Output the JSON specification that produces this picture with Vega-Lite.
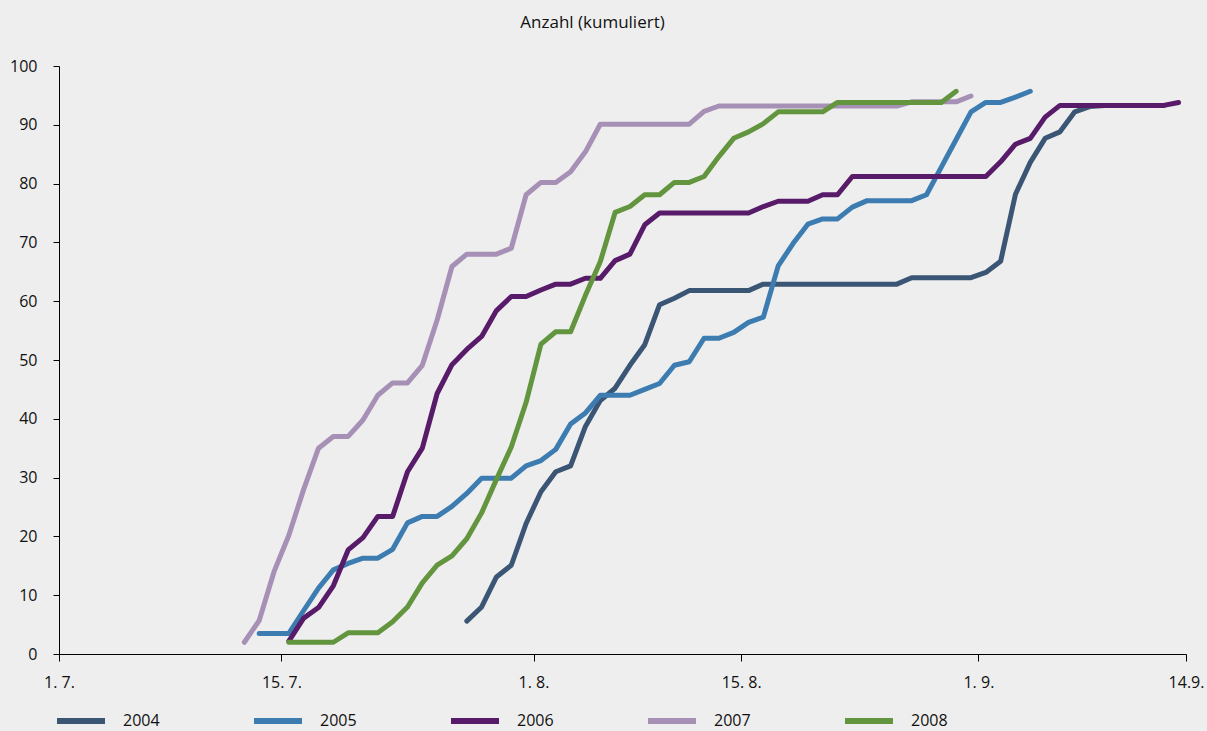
{
  "$schema": "https://vega.github.io/schema/vega-lite/v6.json",
  "width": 1127,
  "height": 588,
  "autosize": "none",
  "padding": {"left": 59, "top": 66, "right": 21, "bottom": 77},
  "background": "#eeeeee",
  "title": {"text": "Anzahl (kumuliert)", "anchor": "middle", "dx": -30, "offset": 26, "fontSize": 17, "fontWeight": "normal", "font": "Open Sans", "color": "#111111"},
  "datasets": {
    "reihen": [
      {"jahr": "2004", "tag": 27, "anzahl": 5.6}, {"jahr": "2004", "tag": 28, "anzahl": 8.0}, {"jahr": "2004", "tag": 29, "anzahl": 13.1}, {"jahr": "2004", "tag": 30, "anzahl": 15.1}, {"jahr": "2004", "tag": 31, "anzahl": 22.2}, {"jahr": "2004", "tag": 32, "anzahl": 27.6}, {"jahr": "2004", "tag": 33, "anzahl": 31.0}, {"jahr": "2004", "tag": 34, "anzahl": 32.0}, {"jahr": "2004", "tag": 35, "anzahl": 38.7}, {"jahr": "2004", "tag": 36, "anzahl": 43.1}, {"jahr": "2004", "tag": 37, "anzahl": 45.2}, {"jahr": "2004", "tag": 38, "anzahl": 49.1}, {"jahr": "2004", "tag": 39, "anzahl": 52.6}, {"jahr": "2004", "tag": 40, "anzahl": 59.4}, {"jahr": "2004", "tag": 41, "anzahl": 60.5}, {"jahr": "2004", "tag": 42, "anzahl": 61.8}, {"jahr": "2004", "tag": 43, "anzahl": 61.8}, {"jahr": "2004", "tag": 44, "anzahl": 61.8}, {"jahr": "2004", "tag": 45, "anzahl": 61.8}, {"jahr": "2004", "tag": 46, "anzahl": 61.8}, {"jahr": "2004", "tag": 47, "anzahl": 62.9}, {"jahr": "2004", "tag": 48, "anzahl": 62.9}, {"jahr": "2004", "tag": 49, "anzahl": 62.9}, {"jahr": "2004", "tag": 50, "anzahl": 62.9}, {"jahr": "2004", "tag": 51, "anzahl": 62.9}, {"jahr": "2004", "tag": 52, "anzahl": 62.9}, {"jahr": "2004", "tag": 53, "anzahl": 62.9}, {"jahr": "2004", "tag": 54, "anzahl": 62.9}, {"jahr": "2004", "tag": 55, "anzahl": 62.9}, {"jahr": "2004", "tag": 56, "anzahl": 62.9}, {"jahr": "2004", "tag": 57, "anzahl": 64.0}, {"jahr": "2004", "tag": 58, "anzahl": 64.0}, {"jahr": "2004", "tag": 59, "anzahl": 64.0}, {"jahr": "2004", "tag": 60, "anzahl": 64.0}, {"jahr": "2004", "tag": 61, "anzahl": 64.0}, {"jahr": "2004", "tag": 62, "anzahl": 64.9}, {"jahr": "2004", "tag": 63, "anzahl": 66.8}, {"jahr": "2004", "tag": 64, "anzahl": 78.2}, {"jahr": "2004", "tag": 65, "anzahl": 83.6}, {"jahr": "2004", "tag": 66, "anzahl": 87.7}, {"jahr": "2004", "tag": 67, "anzahl": 88.8}, {"jahr": "2004", "tag": 68, "anzahl": 92.2}, {"jahr": "2004", "tag": 69, "anzahl": 93.1}, {"jahr": "2004", "tag": 70, "anzahl": 93.3}, {"jahr": "2004", "tag": 71, "anzahl": 93.3}, {"jahr": "2004", "tag": 72, "anzahl": 93.3}, {"jahr": "2004", "tag": 73, "anzahl": 93.3}, {"jahr": "2004", "tag": 74, "anzahl": 93.3},

      {"jahr": "2005", "tag": 13, "anzahl": 3.5}, {"jahr": "2005", "tag": 14, "anzahl": 3.5}, {"jahr": "2005", "tag": 15, "anzahl": 3.5}, {"jahr": "2005", "tag": 16, "anzahl": 7.4}, {"jahr": "2005", "tag": 17, "anzahl": 11.2}, {"jahr": "2005", "tag": 18, "anzahl": 14.3}, {"jahr": "2005", "tag": 19, "anzahl": 15.4}, {"jahr": "2005", "tag": 20, "anzahl": 16.3}, {"jahr": "2005", "tag": 21, "anzahl": 16.3}, {"jahr": "2005", "tag": 22, "anzahl": 17.8}, {"jahr": "2005", "tag": 23, "anzahl": 22.3}, {"jahr": "2005", "tag": 24, "anzahl": 23.4}, {"jahr": "2005", "tag": 25, "anzahl": 23.4}, {"jahr": "2005", "tag": 26, "anzahl": 25.1}, {"jahr": "2005", "tag": 27, "anzahl": 27.3}, {"jahr": "2005", "tag": 28, "anzahl": 29.9}, {"jahr": "2005", "tag": 29, "anzahl": 29.9}, {"jahr": "2005", "tag": 30, "anzahl": 29.9}, {"jahr": "2005", "tag": 31, "anzahl": 32.0}, {"jahr": "2005", "tag": 32, "anzahl": 32.9}, {"jahr": "2005", "tag": 33, "anzahl": 34.8}, {"jahr": "2005", "tag": 34, "anzahl": 39.1}, {"jahr": "2005", "tag": 35, "anzahl": 41.0}, {"jahr": "2005", "tag": 36, "anzahl": 44.0}, {"jahr": "2005", "tag": 37, "anzahl": 44.0}, {"jahr": "2005", "tag": 38, "anzahl": 44.0}, {"jahr": "2005", "tag": 39, "anzahl": 45.0}, {"jahr": "2005", "tag": 40, "anzahl": 46.0}, {"jahr": "2005", "tag": 41, "anzahl": 49.1}, {"jahr": "2005", "tag": 42, "anzahl": 49.7}, {"jahr": "2005", "tag": 43, "anzahl": 53.7}, {"jahr": "2005", "tag": 44, "anzahl": 53.7}, {"jahr": "2005", "tag": 45, "anzahl": 54.7}, {"jahr": "2005", "tag": 46, "anzahl": 56.4}, {"jahr": "2005", "tag": 47, "anzahl": 57.3}, {"jahr": "2005", "tag": 48, "anzahl": 66.0}, {"jahr": "2005", "tag": 49, "anzahl": 69.8}, {"jahr": "2005", "tag": 50, "anzahl": 73.1}, {"jahr": "2005", "tag": 51, "anzahl": 74.0}, {"jahr": "2005", "tag": 52, "anzahl": 74.0}, {"jahr": "2005", "tag": 53, "anzahl": 76.0}, {"jahr": "2005", "tag": 54, "anzahl": 77.1}, {"jahr": "2005", "tag": 55, "anzahl": 77.1}, {"jahr": "2005", "tag": 56, "anzahl": 77.1}, {"jahr": "2005", "tag": 57, "anzahl": 77.1}, {"jahr": "2005", "tag": 58, "anzahl": 78.1}, {"jahr": "2005", "tag": 59, "anzahl": 82.8}, {"jahr": "2005", "tag": 60, "anzahl": 87.5}, {"jahr": "2005", "tag": 61, "anzahl": 92.2}, {"jahr": "2005", "tag": 62, "anzahl": 93.8}, {"jahr": "2005", "tag": 63, "anzahl": 93.8}, {"jahr": "2005", "tag": 64, "anzahl": 94.7}, {"jahr": "2005", "tag": 65, "anzahl": 95.7},

      {"jahr": "2006", "tag": 15, "anzahl": 2.2}, {"jahr": "2006", "tag": 16, "anzahl": 6.1}, {"jahr": "2006", "tag": 17, "anzahl": 7.9}, {"jahr": "2006", "tag": 18, "anzahl": 11.6}, {"jahr": "2006", "tag": 19, "anzahl": 17.7}, {"jahr": "2006", "tag": 20, "anzahl": 19.8}, {"jahr": "2006", "tag": 21, "anzahl": 23.4}, {"jahr": "2006", "tag": 22, "anzahl": 23.4}, {"jahr": "2006", "tag": 23, "anzahl": 31.0}, {"jahr": "2006", "tag": 24, "anzahl": 35.0}, {"jahr": "2006", "tag": 25, "anzahl": 44.3}, {"jahr": "2006", "tag": 26, "anzahl": 49.2}, {"jahr": "2006", "tag": 27, "anzahl": 51.8}, {"jahr": "2006", "tag": 28, "anzahl": 54.0}, {"jahr": "2006", "tag": 29, "anzahl": 58.4}, {"jahr": "2006", "tag": 30, "anzahl": 60.8}, {"jahr": "2006", "tag": 31, "anzahl": 60.8}, {"jahr": "2006", "tag": 32, "anzahl": 61.9}, {"jahr": "2006", "tag": 33, "anzahl": 62.9}, {"jahr": "2006", "tag": 34, "anzahl": 62.9}, {"jahr": "2006", "tag": 35, "anzahl": 63.9}, {"jahr": "2006", "tag": 36, "anzahl": 63.9}, {"jahr": "2006", "tag": 37, "anzahl": 66.9}, {"jahr": "2006", "tag": 38, "anzahl": 68.0}, {"jahr": "2006", "tag": 39, "anzahl": 73.0}, {"jahr": "2006", "tag": 40, "anzahl": 75.0}, {"jahr": "2006", "tag": 41, "anzahl": 75.0}, {"jahr": "2006", "tag": 42, "anzahl": 75.0}, {"jahr": "2006", "tag": 43, "anzahl": 75.0}, {"jahr": "2006", "tag": 44, "anzahl": 75.0}, {"jahr": "2006", "tag": 45, "anzahl": 75.0}, {"jahr": "2006", "tag": 46, "anzahl": 75.0}, {"jahr": "2006", "tag": 47, "anzahl": 76.1}, {"jahr": "2006", "tag": 48, "anzahl": 77.0}, {"jahr": "2006", "tag": 49, "anzahl": 77.0}, {"jahr": "2006", "tag": 50, "anzahl": 77.0}, {"jahr": "2006", "tag": 51, "anzahl": 78.1}, {"jahr": "2006", "tag": 52, "anzahl": 78.1}, {"jahr": "2006", "tag": 53, "anzahl": 81.2}, {"jahr": "2006", "tag": 54, "anzahl": 81.2}, {"jahr": "2006", "tag": 55, "anzahl": 81.2}, {"jahr": "2006", "tag": 56, "anzahl": 81.2}, {"jahr": "2006", "tag": 57, "anzahl": 81.2}, {"jahr": "2006", "tag": 58, "anzahl": 81.2}, {"jahr": "2006", "tag": 59, "anzahl": 81.2}, {"jahr": "2006", "tag": 60, "anzahl": 81.2}, {"jahr": "2006", "tag": 61, "anzahl": 81.2}, {"jahr": "2006", "tag": 62, "anzahl": 81.2}, {"jahr": "2006", "tag": 63, "anzahl": 83.7}, {"jahr": "2006", "tag": 64, "anzahl": 86.7}, {"jahr": "2006", "tag": 65, "anzahl": 87.7}, {"jahr": "2006", "tag": 66, "anzahl": 91.3}, {"jahr": "2006", "tag": 67, "anzahl": 93.3}, {"jahr": "2006", "tag": 68, "anzahl": 93.3}, {"jahr": "2006", "tag": 69, "anzahl": 93.3}, {"jahr": "2006", "tag": 70, "anzahl": 93.3}, {"jahr": "2006", "tag": 71, "anzahl": 93.3}, {"jahr": "2006", "tag": 72, "anzahl": 93.3}, {"jahr": "2006", "tag": 73, "anzahl": 93.3}, {"jahr": "2006", "tag": 74, "anzahl": 93.3}, {"jahr": "2006", "tag": 75, "anzahl": 93.8},

      {"jahr": "2007", "tag": 12, "anzahl": 2.0}, {"jahr": "2007", "tag": 13, "anzahl": 5.7}, {"jahr": "2007", "tag": 14, "anzahl": 14.0}, {"jahr": "2007", "tag": 15, "anzahl": 20.2}, {"jahr": "2007", "tag": 16, "anzahl": 28.0}, {"jahr": "2007", "tag": 17, "anzahl": 35.0}, {"jahr": "2007", "tag": 18, "anzahl": 37.0}, {"jahr": "2007", "tag": 19, "anzahl": 37.0}, {"jahr": "2007", "tag": 20, "anzahl": 39.8}, {"jahr": "2007", "tag": 21, "anzahl": 44.0}, {"jahr": "2007", "tag": 22, "anzahl": 46.1}, {"jahr": "2007", "tag": 23, "anzahl": 46.1}, {"jahr": "2007", "tag": 24, "anzahl": 49.1}, {"jahr": "2007", "tag": 25, "anzahl": 56.8}, {"jahr": "2007", "tag": 26, "anzahl": 65.9}, {"jahr": "2007", "tag": 27, "anzahl": 68.0}, {"jahr": "2007", "tag": 28, "anzahl": 68.0}, {"jahr": "2007", "tag": 29, "anzahl": 68.0}, {"jahr": "2007", "tag": 30, "anzahl": 69.0}, {"jahr": "2007", "tag": 31, "anzahl": 78.1}, {"jahr": "2007", "tag": 32, "anzahl": 80.2}, {"jahr": "2007", "tag": 33, "anzahl": 80.2}, {"jahr": "2007", "tag": 34, "anzahl": 82.0}, {"jahr": "2007", "tag": 35, "anzahl": 85.4}, {"jahr": "2007", "tag": 36, "anzahl": 90.1}, {"jahr": "2007", "tag": 37, "anzahl": 90.1}, {"jahr": "2007", "tag": 38, "anzahl": 90.1}, {"jahr": "2007", "tag": 39, "anzahl": 90.1}, {"jahr": "2007", "tag": 40, "anzahl": 90.1}, {"jahr": "2007", "tag": 41, "anzahl": 90.1}, {"jahr": "2007", "tag": 42, "anzahl": 90.1}, {"jahr": "2007", "tag": 43, "anzahl": 92.3}, {"jahr": "2007", "tag": 44, "anzahl": 93.2}, {"jahr": "2007", "tag": 45, "anzahl": 93.2}, {"jahr": "2007", "tag": 46, "anzahl": 93.2}, {"jahr": "2007", "tag": 47, "anzahl": 93.2}, {"jahr": "2007", "tag": 48, "anzahl": 93.2}, {"jahr": "2007", "tag": 49, "anzahl": 93.2}, {"jahr": "2007", "tag": 50, "anzahl": 93.2}, {"jahr": "2007", "tag": 51, "anzahl": 93.2}, {"jahr": "2007", "tag": 52, "anzahl": 93.2}, {"jahr": "2007", "tag": 53, "anzahl": 93.2}, {"jahr": "2007", "tag": 54, "anzahl": 93.2}, {"jahr": "2007", "tag": 55, "anzahl": 93.2}, {"jahr": "2007", "tag": 56, "anzahl": 93.2}, {"jahr": "2007", "tag": 57, "anzahl": 93.9}, {"jahr": "2007", "tag": 58, "anzahl": 93.9}, {"jahr": "2007", "tag": 59, "anzahl": 93.9}, {"jahr": "2007", "tag": 60, "anzahl": 93.9}, {"jahr": "2007", "tag": 61, "anzahl": 94.9},

      {"jahr": "2008", "tag": 15, "anzahl": 2.0}, {"jahr": "2008", "tag": 16, "anzahl": 2.0}, {"jahr": "2008", "tag": 17, "anzahl": 2.0}, {"jahr": "2008", "tag": 18, "anzahl": 2.0}, {"jahr": "2008", "tag": 19, "anzahl": 3.6}, {"jahr": "2008", "tag": 20, "anzahl": 3.6}, {"jahr": "2008", "tag": 21, "anzahl": 3.6}, {"jahr": "2008", "tag": 22, "anzahl": 5.5}, {"jahr": "2008", "tag": 23, "anzahl": 8.0}, {"jahr": "2008", "tag": 24, "anzahl": 12.1}, {"jahr": "2008", "tag": 25, "anzahl": 15.1}, {"jahr": "2008", "tag": 26, "anzahl": 16.7}, {"jahr": "2008", "tag": 27, "anzahl": 19.6}, {"jahr": "2008", "tag": 28, "anzahl": 24.0}, {"jahr": "2008", "tag": 29, "anzahl": 29.7}, {"jahr": "2008", "tag": 30, "anzahl": 35.2}, {"jahr": "2008", "tag": 31, "anzahl": 42.8}, {"jahr": "2008", "tag": 32, "anzahl": 52.7}, {"jahr": "2008", "tag": 33, "anzahl": 54.8}, {"jahr": "2008", "tag": 34, "anzahl": 54.8}, {"jahr": "2008", "tag": 35, "anzahl": 61.0}, {"jahr": "2008", "tag": 36, "anzahl": 66.7}, {"jahr": "2008", "tag": 37, "anzahl": 75.1}, {"jahr": "2008", "tag": 38, "anzahl": 76.1}, {"jahr": "2008", "tag": 39, "anzahl": 78.1}, {"jahr": "2008", "tag": 40, "anzahl": 78.1}, {"jahr": "2008", "tag": 41, "anzahl": 80.2}, {"jahr": "2008", "tag": 42, "anzahl": 80.2}, {"jahr": "2008", "tag": 43, "anzahl": 81.2}, {"jahr": "2008", "tag": 44, "anzahl": 84.6}, {"jahr": "2008", "tag": 45, "anzahl": 87.7}, {"jahr": "2008", "tag": 46, "anzahl": 88.8}, {"jahr": "2008", "tag": 47, "anzahl": 90.2}, {"jahr": "2008", "tag": 48, "anzahl": 92.2}, {"jahr": "2008", "tag": 49, "anzahl": 92.2}, {"jahr": "2008", "tag": 50, "anzahl": 92.2}, {"jahr": "2008", "tag": 51, "anzahl": 92.2}, {"jahr": "2008", "tag": 52, "anzahl": 93.8}, {"jahr": "2008", "tag": 53, "anzahl": 93.8}, {"jahr": "2008", "tag": 54, "anzahl": 93.8}, {"jahr": "2008", "tag": 55, "anzahl": 93.8}, {"jahr": "2008", "tag": 56, "anzahl": 93.8}, {"jahr": "2008", "tag": 57, "anzahl": 93.8}, {"jahr": "2008", "tag": 58, "anzahl": 93.8}, {"jahr": "2008", "tag": 59, "anzahl": 93.8}, {"jahr": "2008", "tag": 60, "anzahl": 95.7}
    ]
  },
  "data": {"name": "reihen"},
  "mark": {"type": "line", "strokeWidth": 5, "strokeCap": "round", "strokeJoin": "round"},
  "encoding": {
    "x": {
      "field": "tag", "type": "quantitative",
      "scale": {"domain": [-0.5, 75.5], "nice": false, "zero": false},
      "axis": {
        "title": null, "grid": false,
        "values": [-0.5, 14.5, 31.5, 45.5, 61.5, 75.5],
        "labelExpr": "datum.value < 0 ? '1. 7.' : datum.value < 20 ? '15. 7.' : datum.value < 40 ? '1. 8.' : datum.value < 50 ? '15. 8.' : datum.value < 70 ? '1. 9.' : '14.9.'",
        "domainColor": "#000000", "tickColor": "#000000", "tickSize": 7,
        "labelPadding": 13, "labelFontSize": 16, "labelFont": "Open Sans", "labelColor": "#111111",
        "labelFlush": false, "labelOverlap": false
      }
    },
    "y": {
      "field": "anzahl", "type": "quantitative",
      "scale": {"domain": [0, 100], "nice": false},
      "axis": {
        "title": null, "grid": false,
        "values": [0, 10, 20, 30, 40, 50, 60, 70, 80, 90, 100],
        "domainColor": "#000000", "tickColor": "#000000", "tickSize": 6,
        "labelPadding": 16, "labelFontSize": 16, "labelFont": "Open Sans", "labelColor": "#111111"
      }
    },
    "color": {
      "field": "jahr", "type": "nominal",
      "scale": {"domain": ["2004", "2005", "2006", "2007", "2008"], "range": ["#3b5674", "#3c7cb1", "#581b69", "#a790b6", "#63953f"]},
      "legend": {
        "title": null, "orient": "none", "direction": "horizontal",
        "legendX": -5, "legendY": 628,
        "symbolType": "stroke", "symbolSize": 2304, "symbolStrokeWidth": 6,
        "labelFontSize": 16, "labelFont": "Open Sans", "labelColor": "#111111",
        "labelOffset": 15, "columnPadding": 82, "padding": 0
      }
    }
  },
  "config": {"view": {"stroke": null}}
}
